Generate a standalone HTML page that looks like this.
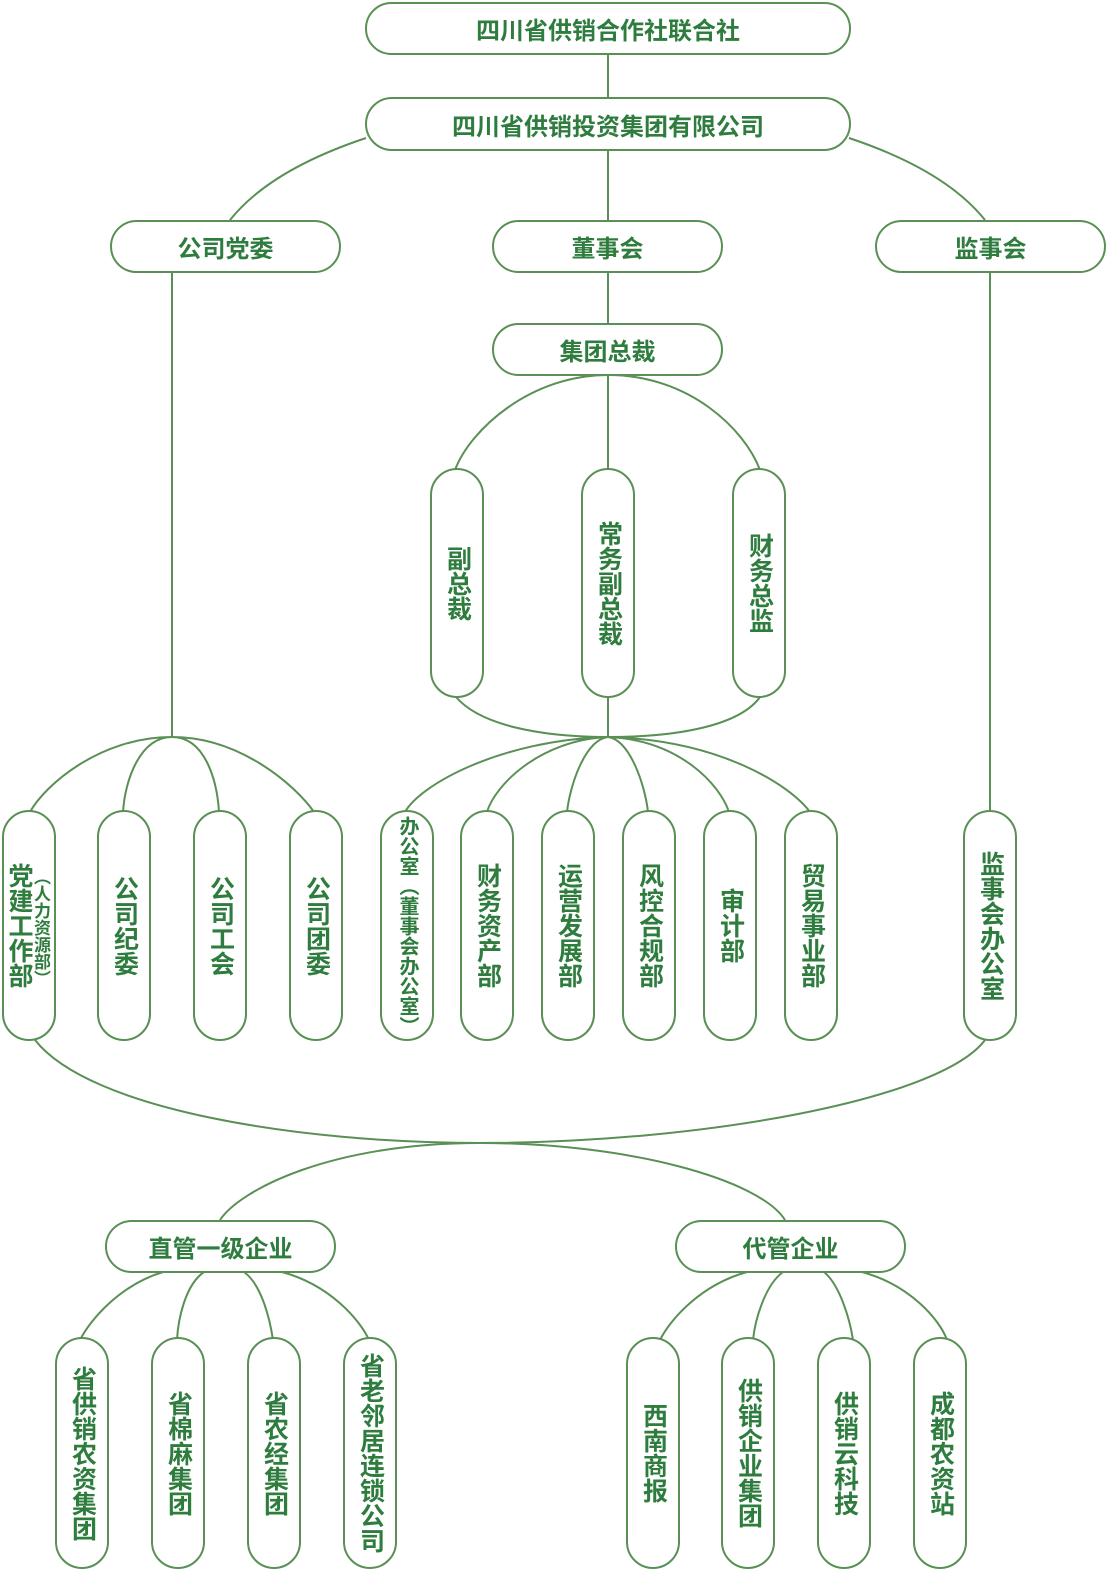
<!DOCTYPE html>
<html><head><meta charset="utf-8"><style>
body{margin:0;background:#fff;}
#c{position:relative;width:1120px;height:1588px;overflow:hidden;font-family:"Liberation Sans","Noto Sans CJK SC",sans-serif;}
svg{position:absolute;left:0;top:0;}
.h{position:absolute;border:2px solid #5a8f55;border-radius:27px;box-sizing:border-box;display:flex;align-items:center;justify-content:center;color:#2f7d3e;font-weight:bold;font-size:24px;background:#fff;}
.v{position:absolute;border:2px solid #5a8f55;border-radius:27px;box-sizing:border-box;display:flex;align-items:center;justify-content:center;color:#2f7d3e;font-weight:bold;font-size:25px;writing-mode:vertical-rl;text-orientation:upright;line-height:1;background:#fff;}
.vt{position:absolute;color:#2f7d3e;font-weight:bold;writing-mode:vertical-rl;text-orientation:upright;line-height:1;}
</style></head><body><div id="c">
<svg width="1120" height="1588" fill="none" stroke="#5a8f55" stroke-width="2">
<path d="M608 54V97M608 150V220M608 272V323M608 375V737"/>
<path d="M366 138Q270 170 230 220M849 138Q945 170 985 220"/>
<path d="M172 272V737M990 272V812"/>
<path d="M172 737C100 737 45 785 30 812M172 737C140 737 125 780 123 812M172 737C205 737 217 780 219 812M172 737C240 737 295 785 314 812"/>
<path d="M608 375C530 375 470 430 455 470M608 375C690 375 745 430 760 470"/>
<path d="M456 697C480 725 540 737 608 737C680 737 740 725 760 697"/>
<path d="M608 737C500 740 420 785 405 812M608 737C540 740 495 785 487 812M608 737C585 740 570 785 567 812M608 737C630 740 645 785 648 812M608 737C680 740 720 785 729 812M608 737C720 740 790 785 810 812"/>
<path d="M35 1040C90 1110 300 1143 480 1143C700 1143 940 1100 985 1040"/>
<path d="M480 1143C330 1143 240 1190 220 1220M480 1143C630 1143 760 1180 785 1220"/>
<path d="M163 1272C120 1285 90 1320 80 1340M204 1272C185 1285 178 1320 177 1340M244 1272C262 1285 270 1320 273 1340M282 1272C330 1285 360 1320 369 1340"/>
<path d="M747 1272C700 1285 670 1320 660 1340M783 1272C765 1285 755 1320 753 1340M824 1272C840 1285 850 1320 853 1340M862 1272C910 1285 940 1320 947 1340"/>
</svg>
<div class="h" style="left:365px;top:2px;width:486px;height:53px;">四川省供销合作社联合社</div>
<div class="h" style="left:365px;top:97px;width:486px;height:54px;">四川省供销投资集团有限公司</div>
<div class="h" style="left:110px;top:220px;width:231px;height:53px;">公司党委</div>
<div class="h" style="left:492px;top:220px;width:231px;height:53px;">董事会</div>
<div class="h" style="left:875px;top:220px;width:231px;height:53px;">监事会</div>
<div class="h" style="left:492px;top:323px;width:231px;height:53px;">集团总裁</div>
<div class="v" style="left:430px;top:468px;width:54px;height:230px;">副总裁</div>
<div class="v" style="left:581px;top:468px;width:54px;height:230px;">常务副总裁</div>
<div class="v" style="left:732px;top:468px;width:54px;height:230px;">财务总监</div>
<div class="v" style="left:2px;top:810px;width:54px;height:231px;"></div>
<div class="vt" style="left:6px;top:863px;font-size:25px;">党建工作部</div>
<div class="vt" style="left:32px;top:868px;font-size:17px;">（人力资源部）</div>
<div class="v" style="left:97px;top:810px;width:54px;height:231px;">公司纪委</div>
<div class="v" style="left:193px;top:810px;width:54px;height:231px;">公司工会</div>
<div class="v" style="left:289px;top:810px;width:54px;height:231px;">公司团委</div>
<div class="v" style="left:380px;top:810px;width:54px;height:231px;font-size:20px;">办公室（董事会办公室）</div>
<div class="v" style="left:460px;top:810px;width:54px;height:231px;">财务资产部</div>
<div class="v" style="left:541px;top:810px;width:54px;height:231px;">运营发展部</div>
<div class="v" style="left:622px;top:810px;width:54px;height:231px;">风控合规部</div>
<div class="v" style="left:703px;top:810px;width:54px;height:231px;">审计部</div>
<div class="v" style="left:784px;top:810px;width:54px;height:231px;">贸易事业部</div>
<div class="v" style="left:963px;top:810px;width:54px;height:231px;">监事会办公室</div>
<div class="h" style="left:105px;top:1220px;width:231px;height:53px;">直管一级企业</div>
<div class="h" style="left:675px;top:1220px;width:231px;height:53px;">代管企业</div>
<div class="v" style="left:55px;top:1337px;width:54px;height:232px;">省供销农资集团</div>
<div class="v" style="left:151px;top:1337px;width:54px;height:232px;">省棉麻集团</div>
<div class="v" style="left:247px;top:1337px;width:54px;height:232px;">省农经集团</div>
<div class="v" style="left:343px;top:1337px;width:54px;height:232px;">省老邻居连锁公司</div>
<div class="v" style="left:626px;top:1337px;width:54px;height:232px;">西南商报</div>
<div class="v" style="left:721px;top:1337px;width:54px;height:232px;">供销企业集团</div>
<div class="v" style="left:817px;top:1337px;width:54px;height:232px;">供销云科技</div>
<div class="v" style="left:913px;top:1337px;width:54px;height:232px;">成都农资站</div>
</div></body></html>
